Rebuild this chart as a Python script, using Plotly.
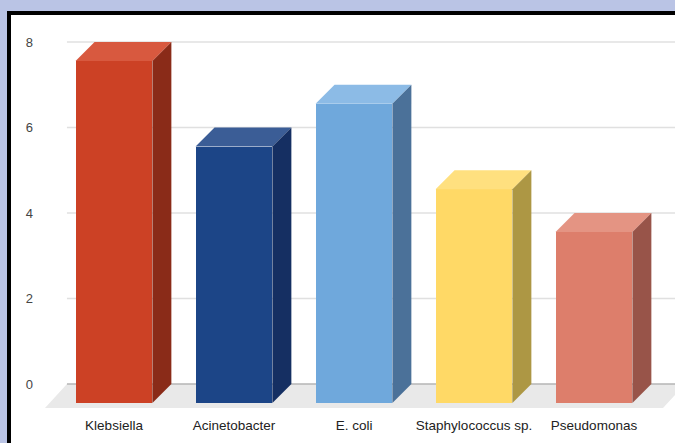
import plotly.graph_objects as go

# Isolates per organism
categories = ["Klebsiella", "Acinetobacter", "E. coli", "Staphylococcus sp.", "Pseudomonas"]
values = [8, 6, 7, 5, 4]
y_ticks = [0, 2, 4, 6, 8]

# Face colours: front, top (lighter), side (darker)
front_colors = ["#cc4125", "#1c4587", "#6fa8dc", "#ffd966", "#dd7e6b"]
top_colors = ["#d8593f", "#3b5d96", "#8cbbe6", "#ffe07f", "#e49483"]
side_colors = ["#8a2b18", "#152f62", "#4b7199", "#ad9744", "#985449"]

W, H = 675, 443
# plot area in pixels (left, right, top, bottom)
PL, PR, PT, PB = 45, 675, 15, 410
X_RANGE = [-0.575, 4.675]
Y_RANGE = [-0.1637, 9.076]

BAR_W = 0.64
DEPTH_X = 0.158      # oblique depth offset, category units
DEPTH_Y = 0.444      # oblique depth offset, value units
FLOOR_PAD_X = 0.025
FLOOR_PAD_Y = 0.117

font = "Liberation Sans, Arial, sans-serif"

fig = go.Figure()

# front faces
fig.add_trace(go.Bar(
    x=list(range(len(categories))), y=values, width=BAR_W,
    marker=dict(color=front_colors, line=dict(width=0)),
    hoverinfo="skip", showlegend=False,
))

# top and side faces
for i, v in enumerate(values):
    x0, x1 = i - BAR_W / 2, i + BAR_W / 2
    fig.add_trace(go.Scatter(
        x=[x0, x1, x1 + DEPTH_X, x0 + DEPTH_X, x0],
        y=[v, v, v + DEPTH_Y, v + DEPTH_Y, v],
        fill="toself", fillcolor=top_colors[i], mode="lines",
        line=dict(width=0, color=top_colors[i]),
        hoverinfo="skip", showlegend=False,
    ))
    fig.add_trace(go.Scatter(
        x=[x1, x1 + DEPTH_X, x1 + DEPTH_X, x1, x1],
        y=[0, DEPTH_Y, v + DEPTH_Y, v, 0],
        fill="toself", fillcolor=side_colors[i], mode="lines",
        line=dict(width=0, color=side_colors[i]),
        hoverinfo="skip", showlegend=False,
    ))

shapes = []
# outer frame
shapes.append(dict(
    type="rect", xref="paper", yref="paper",
    x0=9 / W, x1=1.05, y0=-0.05, y1=1 - 13 / H,
    fillcolor="white", line=dict(color="black", width=4), layer="below",
))

# floor
back_left = X_RANGE[0] + DEPTH_X + FLOOR_PAD_X
front_left = X_RANGE[0]
n = len(categories)
front_right = n - 1 + (-(X_RANGE[0]))
back_right = front_right + DEPTH_X + FLOOR_PAD_X
fy = -FLOOR_PAD_Y
shapes.append(dict(
    type="path", xref="x", yref="y", layer="below",
    path=(f"M {front_left} {fy} L {front_right} {fy} "
          f"L {back_right} {DEPTH_Y} L {back_left} {DEPTH_Y} Z"),
    fillcolor="#e9e9e9", line=dict(width=0),
))

# back-wall gridlines
for t in y_ticks:
    shapes.append(dict(
        type="line", xref="x", yref="y", layer="below",
        x0=back_left, x1=X_RANGE[1] + 0.5, y0=t + DEPTH_Y, y1=t + DEPTH_Y,
        line=dict(color="#b5b5b5" if t == 0 else "#e0e0e0", width=1.5),
    ))

dom_x = [PL / W, PR / W]
dom_y = [(H - PB) / H, (H - PT) / H]

fig.update_layout(
    width=W, height=H,
    margin=dict(l=0, r=0, t=0, b=0),
    paper_bgcolor="#bac4e5",
    plot_bgcolor="rgba(0,0,0,0)",
    shapes=shapes,
    bargap=0,
    xaxis=dict(
        domain=dom_x, range=X_RANGE, tickmode="array",
        tickvals=list(range(n)), ticktext=categories,
        showgrid=False, zeroline=False, showline=False, ticks="",
        tickfont=dict(family=font, size=13.5, color="#222222"),
        ticklabelstandoff=5, automargin=False, fixedrange=True,
    ),
    yaxis=dict(
        domain=dom_y, range=Y_RANGE, visible=False,
        showgrid=False, zeroline=False, fixedrange=True,
    ),
    yaxis2=dict(
        domain=dom_y, overlaying="y", side="left",
        range=[Y_RANGE[0] - DEPTH_Y, Y_RANGE[1] - DEPTH_Y],
        tickmode="array", tickvals=y_ticks, ticktext=[str(t) for t in y_ticks],
        showgrid=False, zeroline=False, showline=False, ticks="",
        tickfont=dict(family=font, size=13, color="#444444"),
        ticklabelstandoff=11, automargin=False, fixedrange=True,
    ),
)

# empty trace on the back-wall value axis so its tick labels are drawn
fig.add_trace(go.Scatter(x=[None], y=[None], yaxis="y2", showlegend=False, hoverinfo="skip"))

fig.write_html("out.html")
